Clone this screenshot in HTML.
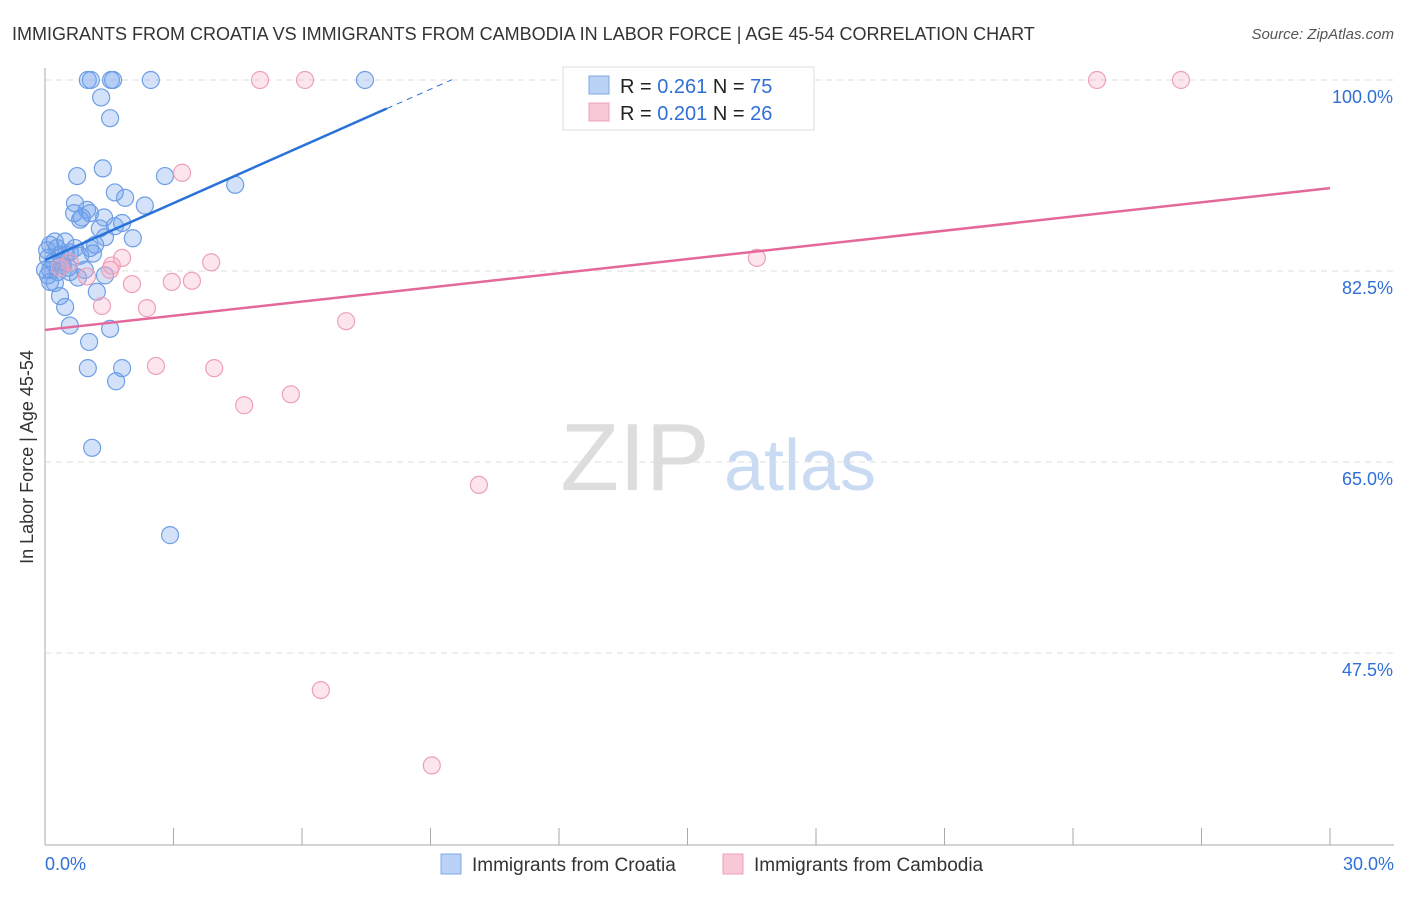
<!DOCTYPE html>
<html><head><meta charset="utf-8"><style>
body{margin:0;background:#fff;font-family:"Liberation Sans",sans-serif;}
svg text{font-family:"Liberation Sans",sans-serif;}
</style></head><body>
<svg id="chart" width="1406" height="892" xmlns="http://www.w3.org/2000/svg">
<text x="12" y="40" font-size="18" fill="#333">IMMIGRANTS FROM CROATIA VS IMMIGRANTS FROM CAMBODIA IN LABOR FORCE | AGE 45-54 CORRELATION CHART</text>
<text x="1394" y="39" font-size="15" fill="#555" text-anchor="end" font-style="italic">Source: ZipAtlas.com</text>
<text transform="translate(33,457) rotate(-90)" font-size="18" fill="#333" text-anchor="middle">In Labor Force | Age 45-54</text>
<g>
<text x="635" y="490" font-size="96" fill="#ddd" font-family="Liberation Serif" text-anchor="middle">ZIP</text>
<text x="800" y="490" font-size="72" fill="#c9dbf3" text-anchor="middle">atlas</text>
</g>
<g id="grid"></g><g id="axes"></g><g id="pts"></g><g id="trend"></g>
<g>
<rect x="563" y="67" width="251" height="63" fill="#fff" stroke="#ddd"/>
<rect x="589" y="76" width="20" height="18" fill="#b9d2f5" stroke="#7ea8e6"/>
<rect x="589" y="103" width="20" height="18" fill="#f9c8d6" stroke="#eea0b8"/>
<text x="620" y="93" font-size="20" fill="#222">R = <tspan fill="#2f6fd6">0.261</tspan>   N = <tspan fill="#2f6fd6">75</tspan></text>
<text x="620" y="120" font-size="20" fill="#222">R = <tspan fill="#2f6fd6">0.201</tspan>   N = <tspan fill="#2f6fd6">26</tspan></text>
</g>
<g>
<rect x="441" y="854" width="20" height="20" fill="#b9d2f5" stroke="#7ea8e6"/>
<text x="472" y="871" font-size="19" fill="#333">Immigrants from Croatia</text>
<rect x="723" y="854" width="20" height="20" fill="#f9c8d6" stroke="#eea0b8"/>
<text x="754" y="871" font-size="19" fill="#333">Immigrants from Cambodia</text>
</g>
</svg>
<script>
const croatiaX=[1.00,1.07,1.54,1.59,2.47,7.47,1.31,1.52,1.35,0.75,2.80,4.44,1.63,1.87,0.70,2.33,0.98,0.68,1.05,0.86,1.38,1.80,1.63,1.28,0.82,2.05,1.40,0.23,0.47,0.12,1.17,0.70,1.05,0.58,0.35,0.07,0.82,1.12,0.40,0.54,0.12,0.30,0.58,0.77,1.40,0.12,0.23,1.21,0.35,0.47,0.58,1.52,1.03,1.00,1.80,1.66,1.10,2.92,0.05,0.19,0.28,0.42,0.93,0.07,0.49,0.0];
const croatiaY=[100,100,100,100,100,100,98.4,96.5,91.9,91.2,91.2,90.4,89.7,89.2,88.7,88.5,88.1,87.8,87.8,87.4,87.4,86.9,86.6,86.4,87.2,85.5,85.6,85.2,85.2,84.9,84.9,84.6,84.6,84.2,84.0,83.7,83.9,84.1,83.3,82.8,82.6,82.4,82.4,81.9,82.1,81.5,81.4,80.6,80.2,79.2,77.5,77.2,76.0,73.6,73.6,72.4,66.3,58.3,84.4,83.3,84.6,83.0,82.6,82.1,84.0,82.6];
const cambodiaX=[5.02,6.07,24.56,26.52,3.20,1.52,1.80,1.56,0.98,0.35,2.03,2.96,3.43,3.88,2.38,1.33,7.03,2.59,3.95,5.74,4.65,10.13,6.44,9.03,16.62,0.58];
const cambodiaY=[100,100,100,100,91.5,82.6,83.7,83.0,82.0,82.8,81.3,81.5,81.6,83.3,79.1,79.3,77.9,73.8,73.6,71.2,70.2,62.9,44.1,37.2,83.7,83.3];
const yTicks=[100,82.5,65,47.5];
const yTickLabels=["100.0%","82.5%","65.0%","47.5%"];
const xTicks=[0,3,6,9,12,15,18,21,24,27,30];
const xEndLabels=["0.0%","30.0%"];
const croatiaTrend=[83.5,1.74];   // intercept, slope
const cambodiaTrend=[77.1,0.433];

const NS="http://www.w3.org/2000/svg";
const X0=45,X1=1330,Y100=80,PXY=10.914;
const sx=v=>X0+(v/30)*(X1-X0);
const sy=v=>Y100+(100-v)*PXY;
function mk(tag,attrs,parent){const e=document.createElementNS(NS,tag);for(const k in attrs)e.setAttribute(k,attrs[k]);document.getElementById(parent).appendChild(e);return e;}

yTicks.forEach((t,i)=>{
  const g=mk('line',{x1:X0,x2:1394,y1:sy(t),y2:sy(t),stroke:'#ddd','stroke-dasharray':'6,5'},'grid');
  
  
  const l=mk('text',{x:1393,y:sy(t)+23,'font-size':18,fill:'#2f6fd6','text-anchor':'end'},'grid');
  l.textContent=yTickLabels[i];
  
  
});
const ya=mk('line',{x1:X0,x2:X0,y1:68,y2:845,stroke:'#aaa'},'axes');


const xa=mk('line',{x1:X0,x2:1394,y1:845,y2:845,stroke:'#aaa'},'axes');


xTicks.forEach(t=>{
  const tk=mk('line',{x1:sx(t),x2:sx(t),y1:828,y2:845,stroke:'#aaa'},'axes');
  
  
});
[[0,'start',45],[30,'end',1394]].forEach((d,i)=>{
  const l=mk('text',{x:d[2],y:870,'font-size':18,fill:'#2f6fd6','text-anchor':d[1]},'axes');
  l.textContent=xEndLabels[i];
  
  
});
croatiaX.forEach((x,i)=>{
  const c=mk('circle',{cx:sx(x),cy:sy(croatiaY[i]),r:8.5,fill:'rgba(110,160,235,0.3)',stroke:'#6d9ee6','stroke-width':1.2},'pts');
  
  
});
cambodiaX.forEach((x,i)=>{
  const c=mk('circle',{cx:sx(x),cy:sy(cambodiaY[i]),r:8.5,fill:'rgba(245,170,195,0.3)',stroke:'#eea0b8','stroke-width':1.2},'pts');
  
  
});
const bt=v=>croatiaTrend[0]+croatiaTrend[1]*v;
const b1=mk('line',{x1:sx(0),y1:sy(bt(0)),x2:sx(7.98),y2:sy(bt(7.98)),stroke:'#2a72d8','stroke-width':2.5},'trend');


const b2=mk('line',{x1:sx(7.98),y1:sy(bt(7.98)),x2:sx(9.5),y2:sy(bt(9.5)),stroke:'#2a72d8','stroke-width':1,'stroke-dasharray':'6,5'},'trend');


const pt=v=>cambodiaTrend[0]+cambodiaTrend[1]*v;
const p1=mk('line',{x1:sx(0),y1:sy(pt(0)),x2:sx(30),y2:sy(pt(30)),stroke:'#e4699a','stroke-width':2.5},'trend');


</script>
</body></html>
